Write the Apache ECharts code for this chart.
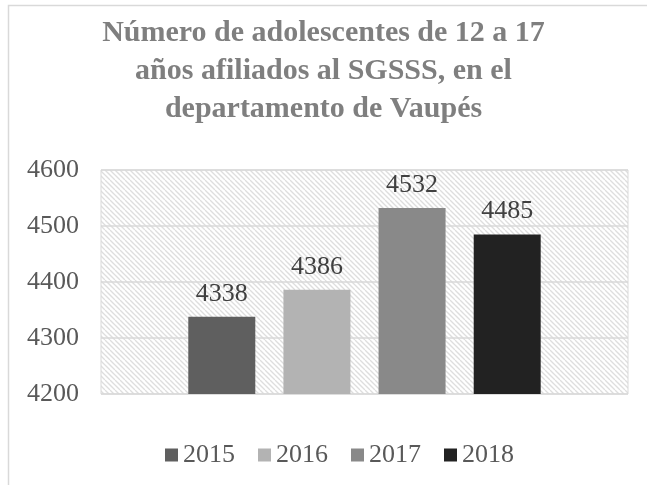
<!DOCTYPE html>
<html>
<head>
<meta charset="utf-8">
<script src="https://cdn.jsdelivr.net/npm/echarts@6/dist/echarts.min.js"></script>
<style>
  html, body { margin: 0; padding: 0; background: #fff; }
  #main { width: 647px; height: 485px; }
</style>
</head>
<body>
<div id="main"></div>
<script>
var titleText = 'Número de adolescentes de 12 a 17\naños afiliados al SGSSS, en el\ndepartamento de Vaupés'
var years = ['2015', '2016', '2017', '2018']
var values = [4338, 4386, 4532, 4485]
var barColors = ['#5f5f5f', '#b3b3b3', '#898989', '#222222']
var yMin = 4200
var yMax = 4600
var yStep = 100

var font = '"Liberation Serif", "Times New Roman", serif'

// hatch pattern for the plot background
function makeHatch () {
  var c = document.createElement('canvas')
  c.width = 10
  c.height = 10
  var ctx = c.getContext('2d')
  ctx.fillStyle = '#ffffff'
  ctx.fillRect(0, 0, 10, 10)
  ctx.strokeStyle = '#dedede'
  ctx.lineWidth = 1.3
  for (var x = -10; x <= 10; x += 5) {
    ctx.beginPath()
    ctx.moveTo(x, 0)
    ctx.lineTo(x + 10, 10)
    ctx.stroke()
  }
  return c
}

var myChart = echarts.init(document.getElementById('main'))

var series = years.map(function (y, i) {
  return {
    name: y,
    type: 'bar',
    barWidth: 67,
    barGap: '42%',
    itemStyle: { color: barColors[i] },
    label: {
      show: true,
      position: 'top',
      distance: 10,
      color: '#404040',
      fontFamily: font,
      fontSize: 26
    },
    data: [values[i]]
  }
})

var option = {
  backgroundColor: '#ffffff',
  animation: false,
  graphic: [{
    type: 'rect',
    silent: true,
    shape: { x: 8.5, y: 5.5, width: 700, height: 600 },
    style: { fill: 'none', stroke: '#d9d9d9', lineWidth: 1.5 }
  }],
  title: {
    text: titleText,
    left: 'center',
    top: 9,
    textStyle: {
      fontFamily: font,
      fontWeight: 'bold',
      fontSize: 30,
      lineHeight: 38,
      color: '#7f7f7f'
    }
  },
  legend: {
    top: 437,
    left: 160,
    itemWidth: 13,
    itemHeight: 13,
    itemGap: 23,
    icon: 'rect',
    textStyle: {
      fontFamily: font,
      fontSize: 26,
      color: '#595959'
    },
    data: years
  },
  grid: {
    left: 101,
    right: 19,
    top: 170,
    bottom: 91,
    show: true,
    backgroundColor: { image: makeHatch(), repeat: 'repeat' },
    borderColor: '#d9d9d9',
    borderWidth: 1
  },
  xAxis: {
    type: 'category',
    data: [''],
    axisLine: { show: false },
    axisTick: { show: false },
    axisLabel: { show: false }
  },
  yAxis: {
    type: 'value',
    min: yMin,
    max: yMax,
    interval: yStep,
    axisLine: { show: false },
    axisTick: { show: false },
    axisLabel: {
      color: '#595959',
      fontFamily: font,
      fontSize: 26,
      margin: 22,
      formatter: function (v) { return String(v) }
    },
    splitLine: { lineStyle: { color: '#d9d9d9', width: 1.5 } }
  },
  series: series
}

myChart.setOption(option)
window.addEventListener('resize', function () {
  myChart.resize()
})
</script>
</body>
</html>
